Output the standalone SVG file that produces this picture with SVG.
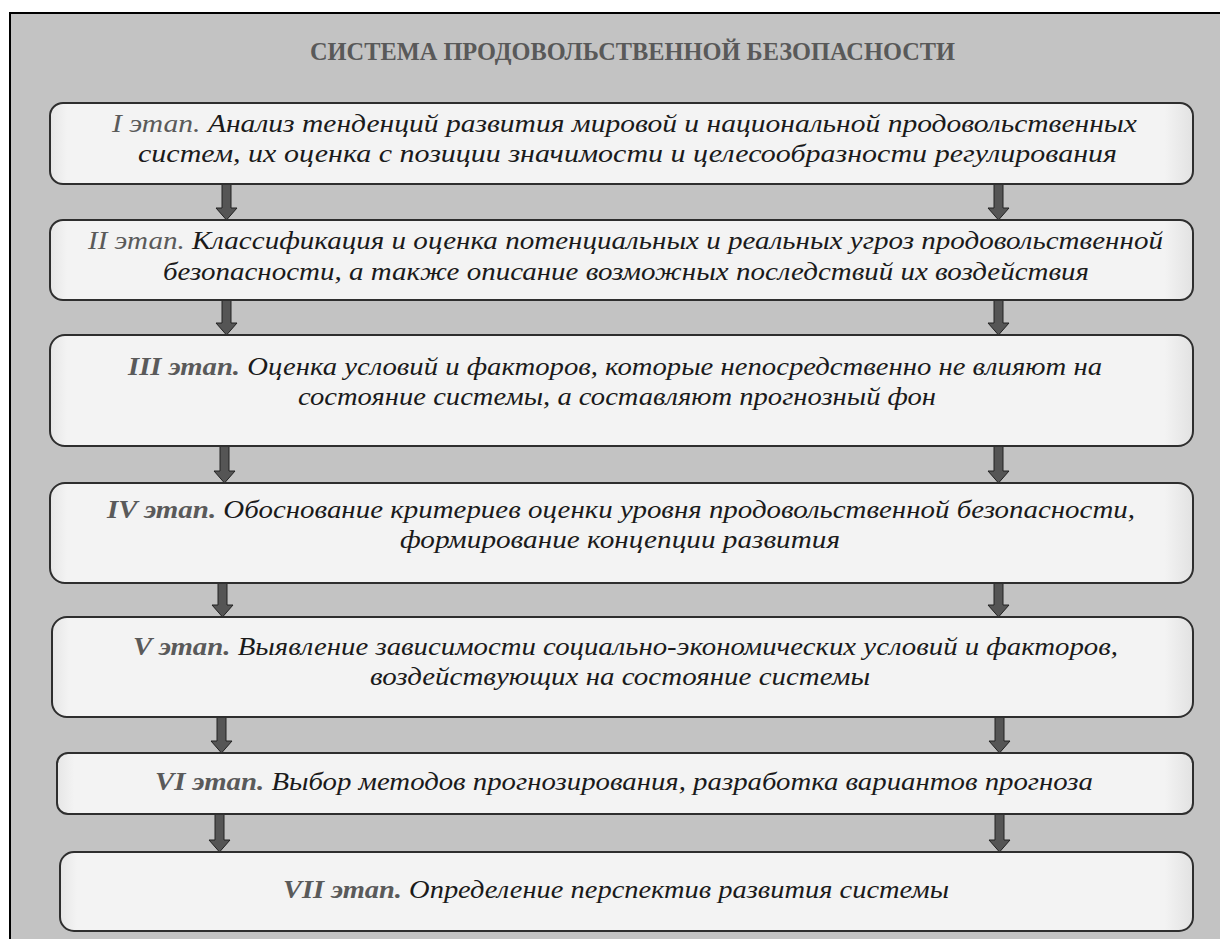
<svg xmlns="http://www.w3.org/2000/svg" width="1220" height="939" viewBox="0 0 1220 939">
<defs>
<linearGradient id="bg" x1="0" y1="0" x2="1" y2="0">
<stop offset="0" stop-color="#e6e6e6"/>
<stop offset="0.015" stop-color="#f3f3f3"/>
<stop offset="0.975" stop-color="#f3f3f3"/>
<stop offset="1" stop-color="#e2e2e2"/>
</linearGradient>
<style>
.box{fill:url(#bg);stroke:#2e2e2e;stroke-width:2}
.t{font-family:"Liberation Serif",serif;font-style:italic;font-size:25px;fill:#1a1a1a;text-anchor:start}
.lab{fill:#5a5a5a}
.labb{fill:#5a5a5a;font-weight:bold}
.arr{fill:#555;stroke:#222;stroke-width:1}
.title{font-family:"Liberation Serif",serif;font-weight:bold;font-size:25px;fill:#595959}
</style>
</defs>
<rect x="0" y="0" width="1220" height="939" fill="#ffffff"/>
<rect x="10" y="13" width="1220" height="940" fill="#c3c3c3" stroke="#000" stroke-width="2"/>
<text class="title" x="310" y="60" textLength="645" lengthAdjust="spacingAndGlyphs">СИСТЕМА ПРОДОВОЛЬСТВЕННОЙ БЕЗОПАСНОСТИ</text>

<g id="connectors">
<path class="arr" d="M222,184 h9 v24 h6 l-10.5,12 l-10.5,-12 h6 z"/>
<path class="arr" d="M994,184 h9 v24 h6 l-10.5,12 l-10.5,-12 h6 z"/>
<path class="arr" d="M222,300 h9 v23 h6 l-10.5,12 l-10.5,-12 h6 z"/>
<path class="arr" d="M994,300 h9 v23 h6 l-10.5,12 l-10.5,-12 h6 z"/>
<path class="arr" d="M220,446 h9 v25 h6 l-10.5,12 l-10.5,-12 h6 z"/>
<path class="arr" d="M994,446 h9 v25 h6 l-10.5,12 l-10.5,-12 h6 z"/>
<path class="arr" d="M218,583 h9 v22 h6 l-10.5,12 l-10.5,-12 h6 z"/>
<path class="arr" d="M994,583 h9 v22 h6 l-10.5,12 l-10.5,-12 h6 z"/>
<path class="arr" d="M217,717 h9 v24 h6 l-10.5,12 l-10.5,-12 h6 z"/>
<path class="arr" d="M995,717 h9 v24 h6 l-10.5,12 l-10.5,-12 h6 z"/>
<path class="arr" d="M215,814 h9 v26 h6 l-10.5,12 l-10.5,-12 h6 z"/>
<path class="arr" d="M995,814 h9 v26 h6 l-10.5,12 l-10.5,-12 h6 z"/>
</g>

<g id="stage1">
<rect class="box" x="50" y="103" width="1143" height="81" rx="13"/>
<text class="t" x="112" y="132" textLength="1025" lengthAdjust="spacingAndGlyphs"><tspan class="lab">I этап.</tspan> Анализ тенденций развития мировой и национальной продовольственных</text>
<text class="t" x="138" y="162" textLength="979" lengthAdjust="spacingAndGlyphs">систем, их оценка с позиции значимости и целесообразности регулирования</text>
</g>

<g id="stage2">
<rect class="box" x="50" y="220" width="1143" height="80" rx="13"/>
<text class="t" x="88" y="249" textLength="1075" lengthAdjust="spacingAndGlyphs"><tspan class="lab">II этап.</tspan> Классификация и оценка потенциальных и реальных угроз продовольственной</text>
<text class="t" x="163" y="280" textLength="926" lengthAdjust="spacingAndGlyphs">безопасности, а также описание возможных последствий их воздействия</text>
</g>

<g id="stage3">
<rect class="box" x="50" y="335" width="1143" height="111" rx="15"/>
<text class="t" x="128" y="375" textLength="974" lengthAdjust="spacingAndGlyphs"><tspan class="labb">III этап.</tspan> Оценка условий и факторов, которые непосредственно не влияют на</text>
<text class="t" x="298" y="405" textLength="638" lengthAdjust="spacingAndGlyphs">состояние системы, а составляют прогнозный фон</text>
</g>

<g id="stage4">
<rect class="box" x="50" y="483" width="1143" height="100" rx="15"/>
<text class="t" x="107" y="518" textLength="1028" lengthAdjust="spacingAndGlyphs"><tspan class="labb">IV этап.</tspan> Обоснование критериев оценки уровня продовольственной безопасности,</text>
<text class="t" x="400" y="548" textLength="440" lengthAdjust="spacingAndGlyphs">формирование концепции развития</text>
</g>

<g id="stage5">
<rect class="box" x="52" y="617" width="1141" height="100" rx="15"/>
<text class="t" x="133" y="655" textLength="985" lengthAdjust="spacingAndGlyphs"><tspan class="labb">V этап.</tspan> Выявление зависимости социально-экономических условий и факторов,</text>
<text class="t" x="370" y="685" textLength="500" lengthAdjust="spacingAndGlyphs">воздействующих на состояние системы</text>
</g>

<g id="stage6">
<rect class="box" x="57" y="753" width="1136" height="61" rx="11"/>
<text class="t" x="155" y="790" textLength="938" lengthAdjust="spacingAndGlyphs"><tspan class="labb">VI этап.</tspan> Выбор методов прогнозирования, разработка вариантов прогноза</text>
</g>

<g id="stage7">
<rect class="box" x="60" y="852" width="1133" height="79" rx="14"/>
<text class="t" x="283" y="898" textLength="666" lengthAdjust="spacingAndGlyphs"><tspan class="labb">VII этап.</tspan> Определение перспектив развития системы</text>
</g>
</svg>
